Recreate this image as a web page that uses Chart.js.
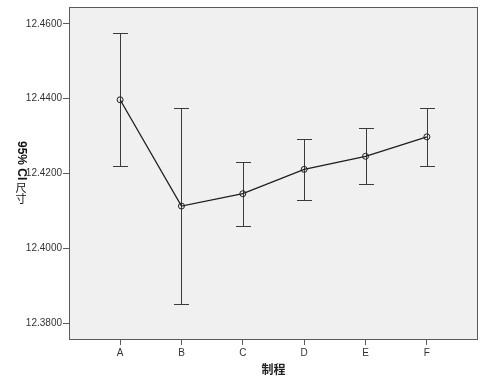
<!DOCTYPE html>
<html>
<head>
<meta charset="utf-8">
<script src="https://cdn.jsdelivr.net/npm/chart.js@4"></script>
<style>
  html, body { margin: 0; padding: 0; background: #fff; }
  #wrap { width: 486px; height: 390px; }
</style>
</head>
<body>
<div id="wrap"><canvas id="ciChart" width="486" height="390"></canvas></div>
<script>
// ── DATA ─────────────────────────────────────────────────────
const CATEGORIES = ['A', 'B', 'C', 'D', 'E', 'F'];
const MEANS      = [12.4397, 12.4113, 12.4146, 12.4211, 12.4246, 12.4298];
const CI_UPPER   = [12.4575, 12.4376, 12.4230, 12.4292, 12.4321, 12.4374];
const CI_LOWER   = [12.4219, 12.3850, 12.4060, 12.4129, 12.4172, 12.4221];
const Y_TICKS    = [12.38, 12.40, 12.42, 12.44, 12.46];

const AXIS_FONT = { family: "Arial, 'Liberation Sans', sans-serif", size: 10 };

// plot panel background + frame
const panelPlugin = {
  id: 'panel',
  beforeDraw(chart) {
    const { ctx, chartArea: a } = chart;
    ctx.save();
    ctx.fillStyle = '#f0f0f0';
    ctx.fillRect(a.left, a.top, a.right - a.left, a.bottom - a.top);
    ctx.restore();
  },
  afterDraw(chart) {
    const { ctx, chartArea: a } = chart;
    ctx.save();
    ctx.strokeStyle = '#5a5a5a';
    ctx.lineWidth = 1;
    ctx.strokeRect(a.left + 0.5, a.top + 0.5, a.right - a.left - 1, a.bottom - a.top - 1);

    // y-axis title: latin part turned clockwise, CJK glyphs stacked upright
    ctx.fillStyle = '#111';
    ctx.textBaseline = 'middle';
    ctx.save();
    ctx.translate(21, 141);
    ctx.rotate(Math.PI / 2);
    ctx.font = "bold 12px Arial, 'Liberation Sans', sans-serif";
    ctx.textAlign = 'left';
    ctx.fillText('95% CI', 0, 0);
    const w1 = ctx.measureText('95% CI').width;
    ctx.restore();
    ctx.font = "11px 'Noto Sans CJK SC', sans-serif";
    ctx.textAlign = 'center';
    ctx.fillText('尺', 21, 141 + w1 + 7);
    ctx.fillText('寸', 21, 141 + w1 + 18);
    ctx.restore();
  }
};

// 95% CI whiskers with caps
const errorBarPlugin = {
  id: 'errorBars',
  beforeDatasetsDraw(chart) {
    const { ctx, scales: { x, y } } = chart;
    ctx.save();
    ctx.strokeStyle = '#3a3a3a';
    ctx.lineWidth = 1;
    CATEGORIES.forEach((c, i) => {
      const px = Math.round(x.getPixelForValue(i)) + 0.5;
      const top = Math.round(y.getPixelForValue(CI_UPPER[i])) + 0.5;
      const bot = Math.round(y.getPixelForValue(CI_LOWER[i])) + 0.5;
      ctx.beginPath();
      ctx.moveTo(px, top); ctx.lineTo(px, bot);
      ctx.moveTo(px - 7.5, top); ctx.lineTo(px + 7.5, top);
      ctx.moveTo(px - 7.5, bot); ctx.lineTo(px + 7.5, bot);
      ctx.stroke();
    });
    ctx.restore();
  }
};

new Chart(document.getElementById('ciChart'), {
  type: 'line',
  data: {
    datasets: [{
      data: MEANS.map((m, i) => ({ x: i, y: m })),
      borderColor: '#1e1e1e',
      borderWidth: 1.3,
      pointRadius: 3,
      pointBorderWidth: 1,
      pointBorderColor: '#1e1e1e',
      pointBackgroundColor: 'rgba(0,0,0,0)',
      fill: false,
      tension: 0,
    }]
  },
  plugins: [panelPlugin, errorBarPlugin],
  options: {
    responsive: false,
    animation: false,
    layout: { padding: { left: 0, top: 6, right: 8, bottom: 0 } },
    plugins: { legend: { display: false }, tooltip: { enabled: false } },
    scales: {
      x: {
        type: 'linear',
        min: -0.833,
        max: 5.833,
        afterBuildTicks: s => { s.ticks = CATEGORIES.map((c, i) => ({ value: i })); },
        afterFit: s => { s.height = 50; },
        ticks: {
          callback: v => CATEGORIES[v],
          font: AXIS_FONT, color: '#333', padding: 2, maxRotation: 0,
        },
        grid: { drawOnChartArea: false, drawTicks: true, tickLength: 5, color: '#5a5a5a' },
        border: { display: false },
        title: {
          display: true, text: '制程', color: '#222',
          font: { family: "'Noto Sans CJK SC', sans-serif", size: 12, weight: 'bold' },
          padding: { top: 4, bottom: 13 },
        },
      },
      y: {
        type: 'linear',
        min: 12.3755,
        max: 12.4645,
        afterBuildTicks: s => { s.ticks = Y_TICKS.map(v => ({ value: v })); },
        afterFit: s => { s.width = 69; },
        ticks: {
          callback: v => v.toFixed(4),
          font: AXIS_FONT, color: '#333', padding: 1,
        },
        grid: { drawOnChartArea: false, drawTicks: true, tickLength: 6, color: '#5a5a5a' },
        border: { display: false },
      }
    }
  }
});
</script>
</body>
</html>
